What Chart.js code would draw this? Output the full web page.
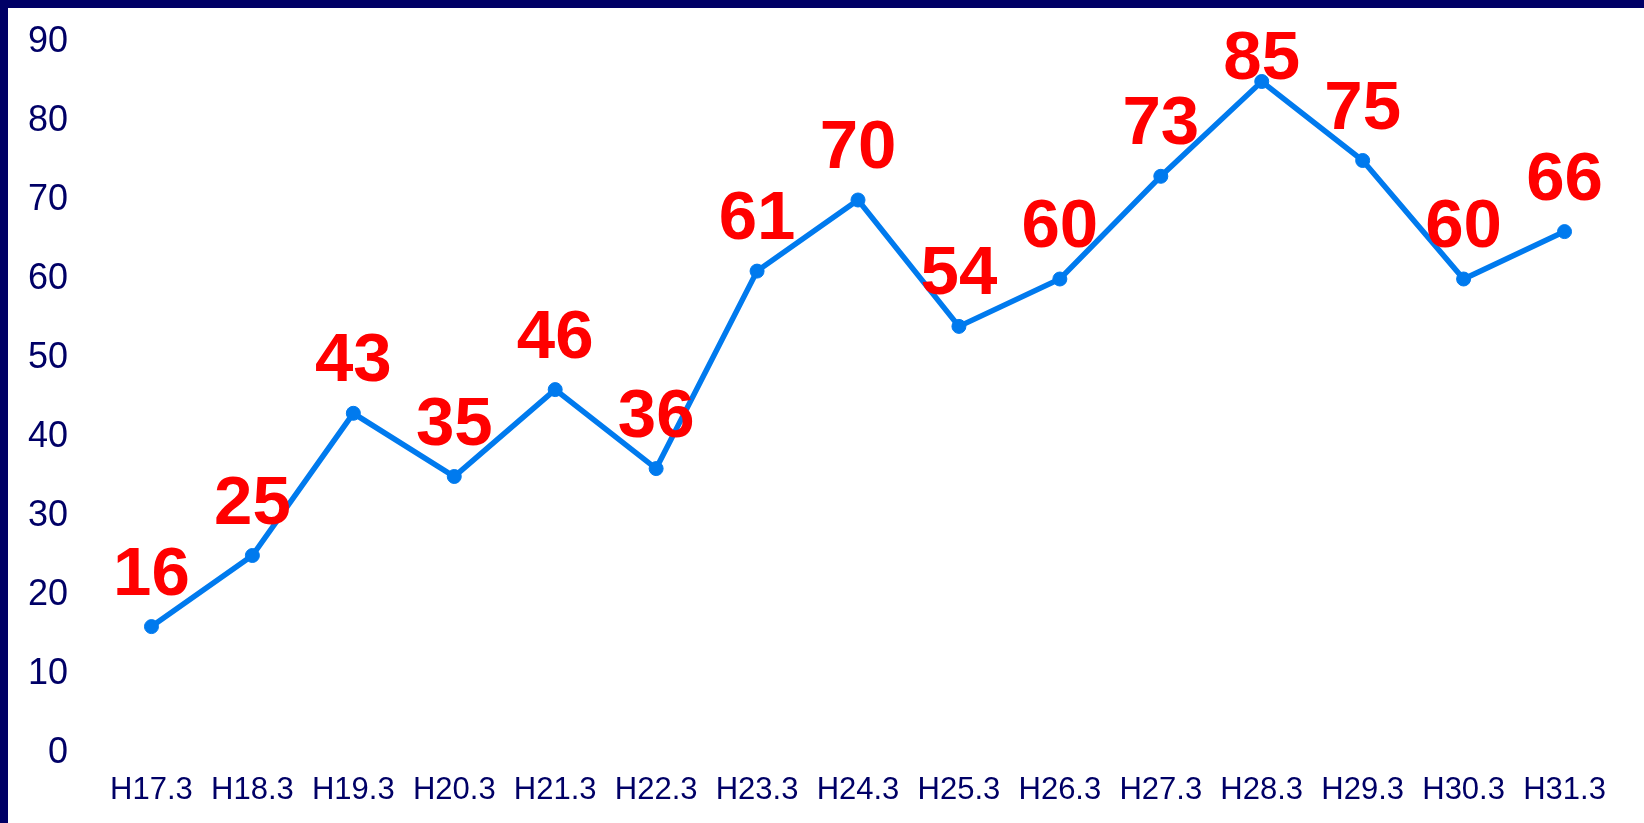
<!DOCTYPE html>
<html>
<head>
<meta charset="utf-8">
<script src="https://cdn.jsdelivr.net/npm/chart.js@4.4.1/dist/chart.umd.min.js"></script>
<style>
  html, body { margin: 0; padding: 0; background: #ffffff; }
  #wrap { position: relative; width: 1644px; height: 823px; }
  #wrap canvas { position: absolute; left: 0; top: 0; }
  #frame {
    position: absolute; left: 0; top: 0; width: 1644px; height: 823px;
    box-sizing: border-box;
    border-top: 8px solid #000066;
    border-left: 8px solid #000066;
    pointer-events: none;
  }
</style>
</head>
<body>
<div id="wrap">
  <canvas id="trend" width="1644" height="823"></canvas>
  <div id="frame"></div>
</div>
<script>
// values
const labels = ['H17.3', 'H18.3', 'H19.3', 'H20.3', 'H21.3', 'H22.3', 'H23.3', 'H24.3',
                'H25.3', 'H26.3', 'H27.3', 'H28.3', 'H29.3', 'H30.3', 'H31.3'];
const values = [16, 25, 43, 35, 46, 36, 61, 70, 54, 60, 73, 85, 75, 60, 66];
const yTicks = [0, 10, 20, 30, 40, 50, 60, 70, 80, 90];

const navy = '#000066';
const blue = 'rgb(0, 122, 238)';

// red numbers above each point
const valueLabels = {
    id: 'valueLabels',
    afterDatasetsDraw(chart) {
        const ctx  = chart.ctx;
        const meta = chart.getDatasetMeta(0);
        ctx.save();
        ctx.font         = 'bold 69px "Liberation Sans", Arial, sans-serif';
        ctx.fillStyle    = '#ff0000';
        ctx.textAlign    = 'center';
        ctx.textBaseline = 'alphabetic';
        meta.data.forEach((pt, i) => {
            let y = pt.y - 32;
            if (y < 79) y = 79;
            ctx.fillText(String(values[i]), pt.x, y);
        });
        ctx.restore();
    }
};

const data = {
    labels: labels,
    datasets: [{
        data: values,
        borderColor: blue,
        backgroundColor: blue,
        borderWidth: 5.5,
        pointRadius: 7,
        pointBorderWidth: 1,
        pointBackgroundColor: blue,
        pointBorderColor: blue,
        tension: 0,
        fill: false
    }]
};

const config = {
    type: 'line',
    data: data,
    plugins: [valueLabels],
    options: {
        responsive: false,
        animation: false,
        devicePixelRatio: 1,
        layout: { padding: { top: 42, right: 29, bottom: 0, left: 0 } },
        plugins: { legend: { display: false }, tooltip: { enabled: false } },
        scales: {
            x: {
                offset: true,
                grid: { display: false, drawTicks: false },
                border: { display: false },
                ticks: {
                    color: navy,
                    padding: 19,
                    maxRotation: 0,
                    autoSkip: false,
                    font: { family: '"Liberation Sans", Arial, sans-serif', size: 31 }
                },
                afterFit: s => { s.height = 70; }
            },
            y: {
                min: 0,
                max: 90,
                afterBuildTicks: s => { s.ticks = yTicks.map(v => ({ value: v })); },
                grid: { display: false, drawTicks: false },
                border: { display: false },
                ticks: {
                    color: navy,
                    padding: 33,
                    font: { family: '"Liberation Sans", Arial, sans-serif', size: 36 }
                },
                afterFit: s => {
                    s.width = 101;
                    s.paddingTop = 0;
                    s.paddingBottom = 0;
                }
            }
        }
    }
};

let trend = new Chart(document.getElementById('trend'), config);
</script>
</body>
</html>
